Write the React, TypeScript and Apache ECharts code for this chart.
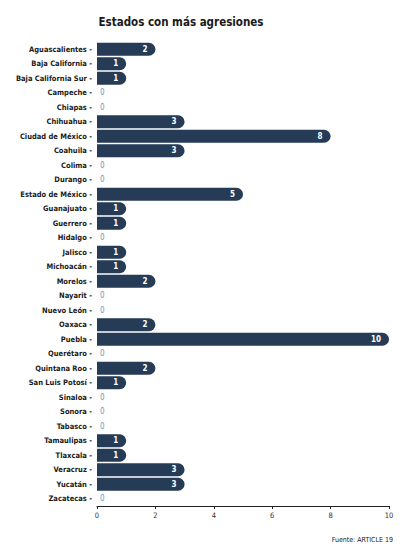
import React, { useEffect, useRef } from "react";
import * as echarts from "echarts";

const states = [
  "Aguascalientes", "Baja California", "Baja California Sur", "Campeche", "Chiapas",
  "Chihuahua", "Ciudad de México", "Coahuila", "Colima", "Durango", "Estado de México",
  "Guanajuato", "Guerrero", "Hidalgo", "Jalisco", "Michoacán", "Morelos", "Nayarit",
  "Nuevo León", "Oaxaca", "Puebla", "Querétaro", "Quintana Roo", "San Luis Potosí",
  "Sinaloa", "Sonora", "Tabasco", "Tamaulipas", "Tlaxcala", "Veracruz", "Yucatán", "Zacatecas",
];
const aggressions = [2, 1, 1, 0, 0, 3, 8, 3, 0, 0, 5, 1, 1, 0, 1, 1, 2, 0, 0, 2, 10, 0, 2, 1, 0, 0, 0, 1, 1, 3, 3, 0];
const xTicks = [0, 2, 4, 6, 8, 10];

const FONT = "'Liberation Sans Narrow', 'DejaVu Sans Condensed', 'Roboto', sans-serif";
const BAR = "#253b56";

export default function App() {
  const ref = useRef<HTMLDivElement>(null);
  useEffect(() => {
    if (!ref.current) return;
    const chart = echarts.init(ref.current, null, { renderer: "svg" });
    chart.setOption({
      animation: false,
      backgroundColor: "#ffffff",
      title: {
        text: "Estados con más agresiones",
        left: 176,
        textAlign: "center",
        top: 11,
        textStyle: { fontFamily: FONT, fontSize: 11.5, fontWeight: "bold", color: "#1a1a1a" },
      },
      graphic: [
        {
          type: "text",
          right: 12,
          top: 536,
          style: {
            text: "Fuente: ARTICLE 19",
            font: `7px ${FONT}`,
            fill: "#222",
          },
        },
      ],
      grid: { left: 97, right: 16, top: 42, bottom: 44, containLabel: false },
      xAxis: {
        type: "value",
        min: xTicks[0],
        max: xTicks[xTicks.length - 1],
        interval: 2,
        splitLine: { show: false },
        axisLine: { show: true, lineStyle: { color: "#222", width: 1 } },
        axisTick: { show: true, length: 3, lineStyle: { color: "#222" } },
        axisLabel: { fontFamily: FONT, fontSize: 7.5, color: "#333", margin: 5 },
      },
      yAxis: {
        type: "category",
        data: states,
        inverse: true,
        axisLine: { show: false },
        axisTick: { show: false },
        axisLabel: {
          fontFamily: FONT,
          fontSize: 7.5,
          fontWeight: "bold",
          color: "#1a1a1a",
          margin: 5,
          formatter: (v: string) => `${v} -`,
        },
      },
      series: [
        {
          type: "bar",
          barCategoryGap: "10%",
          data: aggressions.map((v) => ({
            value: v,
            label:
              v === 0
                ? { position: "right", color: "#6f95b8", fontWeight: "normal", offset: [-2, 0] }
                : { position: "insideRight", color: "#ffffff", fontWeight: "bold", offset: [-3, 0] },
          })),
          itemStyle: { color: BAR, borderRadius: [0, 7, 7, 0] },
          label: {
            show: true,
            fontFamily: FONT,
            fontSize: 8,
          },
        },
      ],
    });
    return () => chart.dispose();
  }, []);
  return (
    <div
      ref={ref}
      style={{ position: "absolute", left: 0, top: 0, width: 405, height: 550 }}
    />
  );
}
